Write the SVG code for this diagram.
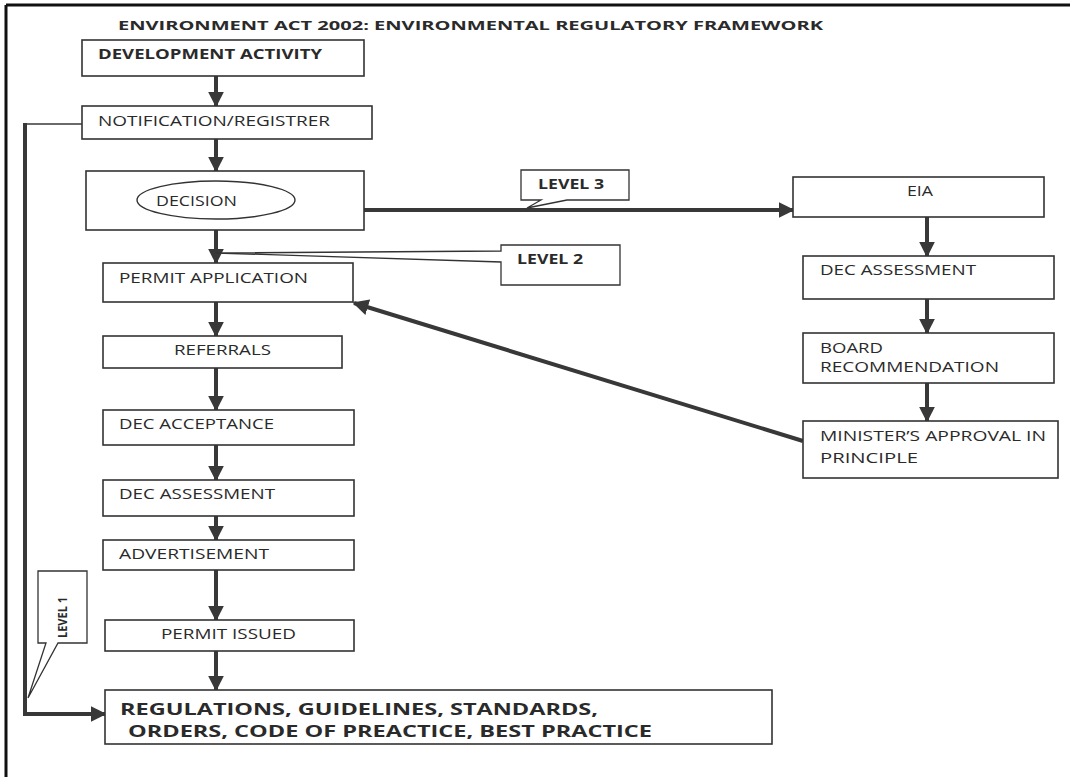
<svg xmlns="http://www.w3.org/2000/svg" width="1070" height="777" viewBox="0 0 1070 777">
<style>
  .box{fill:#fff;stroke:#333;stroke-width:1.6}
  .t{font-family:"Open Sans","Liberation Sans",sans-serif;font-size:14px;fill:#2a2a2a}
  .b{font-weight:bold}
  .thick{stroke:#383838;stroke-width:4;fill:none}
  .thin{stroke:#383838;stroke-width:1.5;fill:none}
  .call{fill:#fff;stroke:#333;stroke-width:1.3}
</style>
<defs>
  <marker id="ah" viewBox="0 0 10 10" refX="9" refY="5" markerWidth="4" markerHeight="4" orient="auto" markerUnits="strokeWidth">
    <path d="M0,0 L10,5 L0,10 z" fill="#383838"/>
  </marker>
</defs>
<rect width="1070" height="777" fill="#fff"/>
<g id="frame">
  <line x1="6" y1="5" x2="1070" y2="5" stroke="#111" stroke-width="3"/>
  <line x1="6" y1="5" x2="6" y2="777" stroke="#111" stroke-width="3"/>
</g>
<text id="title" class="t b" x="118" y="30" style="font-size:13px" textLength="705" lengthAdjust="spacingAndGlyphs">ENVIRONMENT   ACT 2002: ENVIRONMENTAL REGULATORY FRAMEWORK</text>

<g id="connectors">
  <line class="thick" x1="216" y1="76" x2="216" y2="106" marker-end="url(#ah)"/>
  <line class="thick" x1="216" y1="139" x2="216" y2="171" marker-end="url(#ah)"/>
  <line class="thick" x1="216" y1="230" x2="216" y2="263" marker-end="url(#ah)"/>
  <line class="thick" x1="216" y1="302" x2="216" y2="336" marker-end="url(#ah)"/>
  <line class="thick" x1="216" y1="368" x2="216" y2="410" marker-end="url(#ah)"/>
  <line class="thick" x1="216" y1="445" x2="216" y2="480" marker-end="url(#ah)"/>
  <line class="thick" x1="216" y1="516" x2="216" y2="540" marker-end="url(#ah)"/>
  <line class="thick" x1="216" y1="570" x2="216" y2="620" marker-end="url(#ah)"/>
  <line class="thick" x1="216" y1="651" x2="216" y2="690" marker-end="url(#ah)"/>
  <line class="thick" x1="364" y1="210" x2="793" y2="210" marker-end="url(#ah)"/>
  <line class="thick" x1="927" y1="217" x2="927" y2="256" marker-end="url(#ah)"/>
  <line class="thick" x1="927" y1="299" x2="927" y2="333" marker-end="url(#ah)"/>
  <line class="thick" x1="927" y1="383" x2="927" y2="421" marker-end="url(#ah)"/>
  <line class="thick" x1="803" y1="441" x2="354" y2="303" marker-end="url(#ah)"/>
  <polyline class="thin" points="82,124 25,124"/>
  <polyline class="thick" points="25,123 25,714 105,714" marker-end="url(#ah)"/>
</g>

<g id="n-dev"><rect class="box" x="82" y="40" width="282" height="36"/><text class="t b" x="98" y="59" textLength="224" lengthAdjust="spacingAndGlyphs">DEVELOPMENT ACTIVITY</text></g>
<g id="n-notif"><rect class="box" x="82" y="106" width="290" height="33"/><text class="t" x="98" y="126" textLength="232" lengthAdjust="spacingAndGlyphs">NOTIFICATION/REGISTRER</text></g>
<g id="n-decision"><rect class="box" x="86" y="171" width="278" height="59"/><ellipse cx="216" cy="200" rx="79" ry="19" fill="#fff" stroke="#333" stroke-width="1.4"/><text class="t" x="156" y="206" textLength="81" lengthAdjust="spacingAndGlyphs">DECISION</text></g>
<g id="n-permitapp"><rect class="box" x="103" y="263" width="250" height="39"/><text class="t" x="119" y="283" textLength="189" lengthAdjust="spacingAndGlyphs">PERMIT APPLICATION</text></g>
<g id="n-referrals"><rect class="box" x="103" y="336" width="239" height="32"/><text class="t" x="174" y="355" textLength="97" lengthAdjust="spacingAndGlyphs">REFERRALS</text></g>
<g id="n-decacc"><rect class="box" x="103" y="410" width="251" height="35"/><text class="t" x="119" y="429" textLength="155" lengthAdjust="spacingAndGlyphs">DEC ACCEPTANCE</text></g>
<g id="n-decass"><rect class="box" x="103" y="480" width="251" height="36"/><text class="t" x="119" y="499" textLength="156" lengthAdjust="spacingAndGlyphs">DEC ASSESSMENT</text></g>
<g id="n-advert"><rect class="box" x="103" y="540" width="251" height="30"/><text class="t" x="119" y="559" textLength="150" lengthAdjust="spacingAndGlyphs">ADVERTISEMENT</text></g>
<g id="n-issued"><rect class="box" x="105" y="620" width="249" height="31"/><text class="t" x="161" y="639" textLength="135" lengthAdjust="spacingAndGlyphs">PERMIT ISSUED</text></g>
<g id="n-regs"><rect class="box" x="105" y="690" width="667" height="54"/>
  <text class="t b" x="120" y="715" style="font-size:15.5px" textLength="478" lengthAdjust="spacingAndGlyphs">REGULATIONS, GUIDELINES, STANDARDS,</text>
  <text class="t b" x="128" y="737" style="font-size:15.5px" textLength="524" lengthAdjust="spacingAndGlyphs">ORDERS, CODE OF PREACTICE, BEST PRACTICE</text></g>
<g id="n-eia"><rect class="box" x="793" y="177" width="251" height="40"/><text class="t" x="907" y="196" textLength="26" lengthAdjust="spacingAndGlyphs">EIA</text></g>
<g id="n-decass2"><rect class="box" x="803" y="256" width="251" height="43"/><text class="t" x="820" y="275" textLength="156" lengthAdjust="spacingAndGlyphs">DEC ASSESSMENT</text></g>
<g id="n-board"><rect class="box" x="803" y="333" width="251" height="50"/><text class="t" x="820" y="353" textLength="63" lengthAdjust="spacingAndGlyphs">BOARD</text><text class="t" x="820" y="372" textLength="179" lengthAdjust="spacingAndGlyphs">RECOMMENDATION</text></g>
<g id="n-minister"><rect class="box" x="803" y="421" width="255" height="57"/><text class="t" x="820" y="441" textLength="226" lengthAdjust="spacingAndGlyphs">MINISTER’S APPROVAL IN</text><text class="t" x="820" y="463" textLength="98" lengthAdjust="spacingAndGlyphs">PRINCIPLE</text></g>

<g id="callout-l3">
  <path class="call" d="M521,170 H629 V200 H567 L527,208 L541,200 H521 Z"/>
  <text class="t b" x="538" y="189" textLength="66" lengthAdjust="spacingAndGlyphs">LEVEL 3</text>
</g>
<g id="callout-l2">
  <path class="call" d="M501,245 H620 V285 H501 V262 L216,253 L501,251 Z"/>
  <text class="t b" x="517" y="264" textLength="66" lengthAdjust="spacingAndGlyphs">LEVEL 2</text>
</g>
<g id="callout-l1">
  <path class="call" d="M38,571 H87 V643 H58 L28,698 L46,643 H38 Z"/>
  <text class="t b" x="0" y="0" transform="translate(67,617.5) rotate(-90)" text-anchor="middle" style="font-size:13px" textLength="41" lengthAdjust="spacingAndGlyphs">LEVEL 1</text>
</g>
</svg>
